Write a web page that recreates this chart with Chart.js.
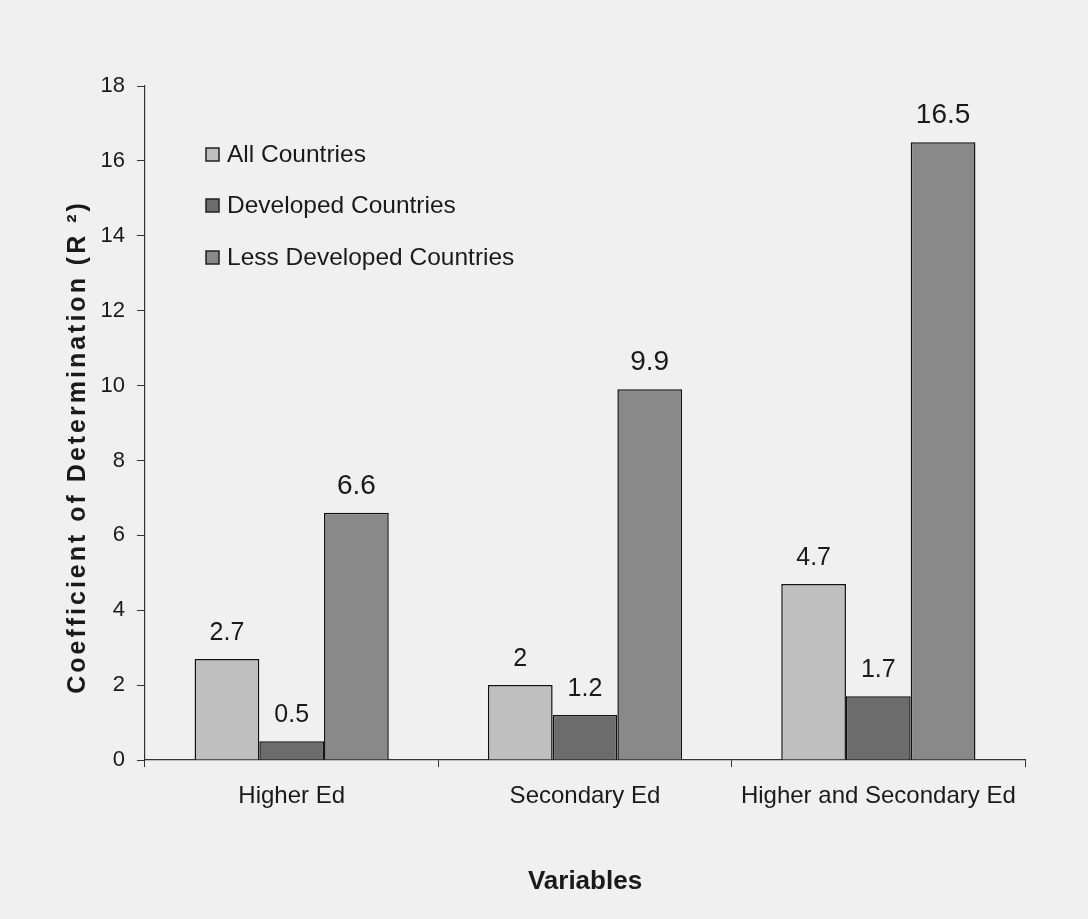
<!DOCTYPE html>
<html>
<head>
<meta charset="utf-8">
<script src="https://cdn.jsdelivr.net/npm/chart.js@4.4.0/dist/chart.umd.min.js"></script>
<style>
  html, body { margin: 0; padding: 0; background: #efefef; }
  #wrap { width: 1088px; height: 919px; }
</style>
</head>
<body>
<div id="wrap"><canvas id="chart_r2"></canvas></div>
<script>
const categories = ["Higher Ed", "Secondary Ed", "Higher and Secondary Ed"];
const allCountries = [2.7, 2, 4.7];
const developedCountries = [0.5, 1.2, 1.7];
const lessDevelopedCountries = [6.6, 9.9, 16.5];
const seriesNames = ["All Countries", "Developed Countries", "Less Developed Countries"];
const seriesColors = ["#bfbfbf", "#6c6c6c", "#898989"];
const labelSizes = [25, 25, 28];
const yTitle = "Coefficient of Determination (R ²)";

// paints the speckled-paper background
const bgPlugin = {
  id: "bg",
  beforeDraw(chart) {
    const c = chart.ctx;
    c.save();
    c.fillStyle = "#f0f0f0";
    c.fillRect(0, 0, chart.width, chart.height);
    c.restore();
  },
};

// value labels above every bar
const valueLabels = {
  id: "valueLabels",
  afterDatasetsDraw(chart) {
    const c = chart.ctx;
    c.save();
    c.fillStyle = "#1a1a1a";
    c.textAlign = "center";
    c.textBaseline = "alphabetic";
    chart.data.datasets.forEach((ds, i) => {
      c.font = labelSizes[i] + "px 'Liberation Sans', Arial, sans-serif";
      chart.getDatasetMeta(i).data.forEach((bar, j) => {
        c.fillText(String(ds.data[j]), bar.x, bar.y - 19);
      });
    });
    c.restore();
  },
};

// legend sits inside the plot, top left; y title is letter-spaced like the scan
const innerLegend = {
  id: "innerLegend",
  afterDraw(chart) {
    const c = chart.ctx;
    const rows = [154, 205, 257];
    c.save();
    c.font = "24.5px 'Liberation Sans', Arial, sans-serif";
    c.textBaseline = "middle";
    c.textAlign = "left";
    seriesNames.forEach((name, i) => {
      c.fillStyle = seriesColors[i];
      c.fillRect(206, rows[i] - 6, 13, 13);
      c.strokeStyle = "#222";
      c.lineWidth = 1.5;
      c.strokeRect(206, rows[i] - 6, 13, 13);
      c.fillStyle = "#1a1a1a";
      c.fillText(name, 227, rows[i] + 1);
    });
    c.restore();

    c.save();
    c.translate(78, 447);
    c.rotate(-Math.PI / 2);
    c.font = "bold 25px 'Liberation Sans', Arial, sans-serif";
    c.letterSpacing = "3px";
    c.fillStyle = "#1a1a1a";
    c.textAlign = "center";
    c.textBaseline = "middle";
    c.fillText(yTitle, 0, 0);
    c.restore();
  },
};

const ctx = document.getElementById("chart_r2").getContext("2d");
const myChart = new Chart(ctx, {
  type: "bar",
  data: {
    labels: categories,
    datasets: [
      { label: seriesNames[0], data: allCountries, backgroundColor: seriesColors[0], borderColor: "#111", borderWidth: 1.5 },
      { label: seriesNames[1], data: developedCountries, backgroundColor: seriesColors[1], borderColor: "#111", borderWidth: 1.5 },
      { label: seriesNames[2], data: lessDevelopedCountries, backgroundColor: seriesColors[2], borderColor: "#111", borderWidth: 1.5 },
    ],
  },
  options: {
    responsive: true,
    maintainAspectRatio: false,
    animation: false,
    datasets: {
      bar: { categoryPercentage: 0.662, barPercentage: 1.0 },
    },
    layout: {
      padding: { top: 86, right: 63, bottom: 0, left: 0 },
    },
    plugins: {
      legend: { display: false },
      tooltip: { enabled: false },
    },
    scales: {
      x: {
        afterFit: (s) => { s.height = 159; },
        grid: {
          offset: true,
          drawOnChartArea: false,
          drawTicks: true,
          tickLength: 7,
          color: "#333",
        },
        border: { color: "#333", width: 1.2 },
        ticks: {
          color: "#1a1a1a",
          padding: 15,
          maxRotation: 0,
          font: { family: "'Liberation Sans', Arial, sans-serif", size: 24 },
        },
        title: {
          display: true,
          text: "Variables",
          color: "#1a1a1a",
          padding: { top: 22, bottom: 22 },
          font: { family: "'Liberation Sans', Arial, sans-serif", size: 26, weight: "bold" },
        },
      },
      y: {
        min: 0,
        max: 18,
        afterFit: (s) => { s.width = 145; },
        grid: {
          drawOnChartArea: false,
          drawTicks: true,
          tickLength: 8,
          color: "#333",
        },
        border: { color: "#333", width: 1.2 },
        ticks: {
          stepSize: 2,
          color: "#1a1a1a",
          padding: 12,
          font: { family: "'Liberation Sans', Arial, sans-serif", size: 22 },
        },
        title: { display: false },
      },
    },
  },
  plugins: [bgPlugin, valueLabels, innerLegend],
});
</script>
</body>
</html>
